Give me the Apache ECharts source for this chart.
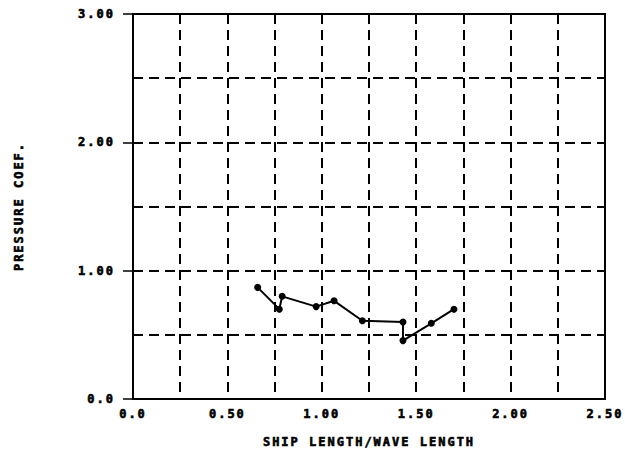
<!DOCTYPE html>
<html>
<head>
<meta charset="utf-8">
<script src="https://cdn.jsdelivr.net/npm/echarts@6/dist/echarts.min.js"></script>
<style>
  html, body { margin: 0; padding: 0; background: #fff; }
  #chart { width: 625px; height: 455px; }
  #chart text { letter-spacing: 2px; }
</style>
</head>
<body>
<div id="chart"></div>
<script>
// Pressure coefficient against ship length / wave length
const shipWaveRatio = [0.66, 0.775, 0.79, 0.97, 1.065, 1.215, 1.43, 1.43, 1.58, 1.70];
const pressureCoef  = [0.87, 0.70, 0.80, 0.72, 0.765, 0.61, 0.60, 0.455, 0.59, 0.70];
const xTickLabels = ['0.0', '0.50', '1.00', '1.50', '2.00', '2.50'];
const yTickLabels = ['0.0', '1.00', '2.00', '3.00'];

const points = shipWaveRatio.map((x, i) => [x, pressureCoef[i]]);
const font = {
  fontFamily: 'DejaVu Sans Mono', fontWeight: 'bold', fontSize: 12, color: '#000',
  textBorderColor: '#000', textBorderWidth: 0.6
};
const dashed = { show: true, lineStyle: { color: '#000', width: 2, type: [10, 6] } };

const chart = echarts.init(document.getElementById('chart'), null, { renderer: 'svg' });
chart.setOption({
  animation: false,
  backgroundColor: '#fff',
  grid: { left: 133, right: 20, top: 14, bottom: 56, show: true, borderColor: '#000', borderWidth: 2 },
  xAxis: {
    type: 'value', min: 0, max: 2.5, interval: 0.25,
    name: 'SHIP LENGTH/WAVE LENGTH', nameLocation: 'middle', nameGap: 37,
    nameTextStyle: font,
    axisLine: { lineStyle: { color: '#000', width: 2 } },
    axisTick: { show: false },
    axisLabel: Object.assign({ margin: 9, formatter: v => {
      const k = Math.round(v / 0.5);
      return Math.abs(v - k * 0.5) < 1e-6 ? xTickLabels[k] : '';
    } }, font),
    splitLine: dashed
  },
  yAxis: [
    {
      type: 'value', min: 0, max: 3, interval: 0.5,
      axisLine: { show: true, lineStyle: { color: '#000', width: 2 } },
      axisTick: { show: false },
      axisLabel: { show: false },
      splitLine: dashed
    },
    {
      type: 'value', min: 0, max: 3, interval: 1, position: 'left',
      name: 'PRESSURE COEF.', nameLocation: 'middle', nameGap: 108, nameRotate: 90,
      nameTextStyle: font,
      axisLine: { show: true, lineStyle: { color: '#000', width: 2 } },
      axisTick: { show: true, length: 10, lineStyle: { color: '#000', width: 1.5 } },
      axisLabel: Object.assign({ margin: 18, formatter: v => yTickLabels[Math.round(v)] }, font),
      splitLine: { show: false }
    }
  ],
  series: [{
    type: 'line',
    data: points,
    yAxisIndex: 0,
    symbol: 'circle', symbolSize: 7,
    itemStyle: { color: '#000' },
    lineStyle: { color: '#000', width: 2 }
  }]
});
</script>
</body>
</html>
